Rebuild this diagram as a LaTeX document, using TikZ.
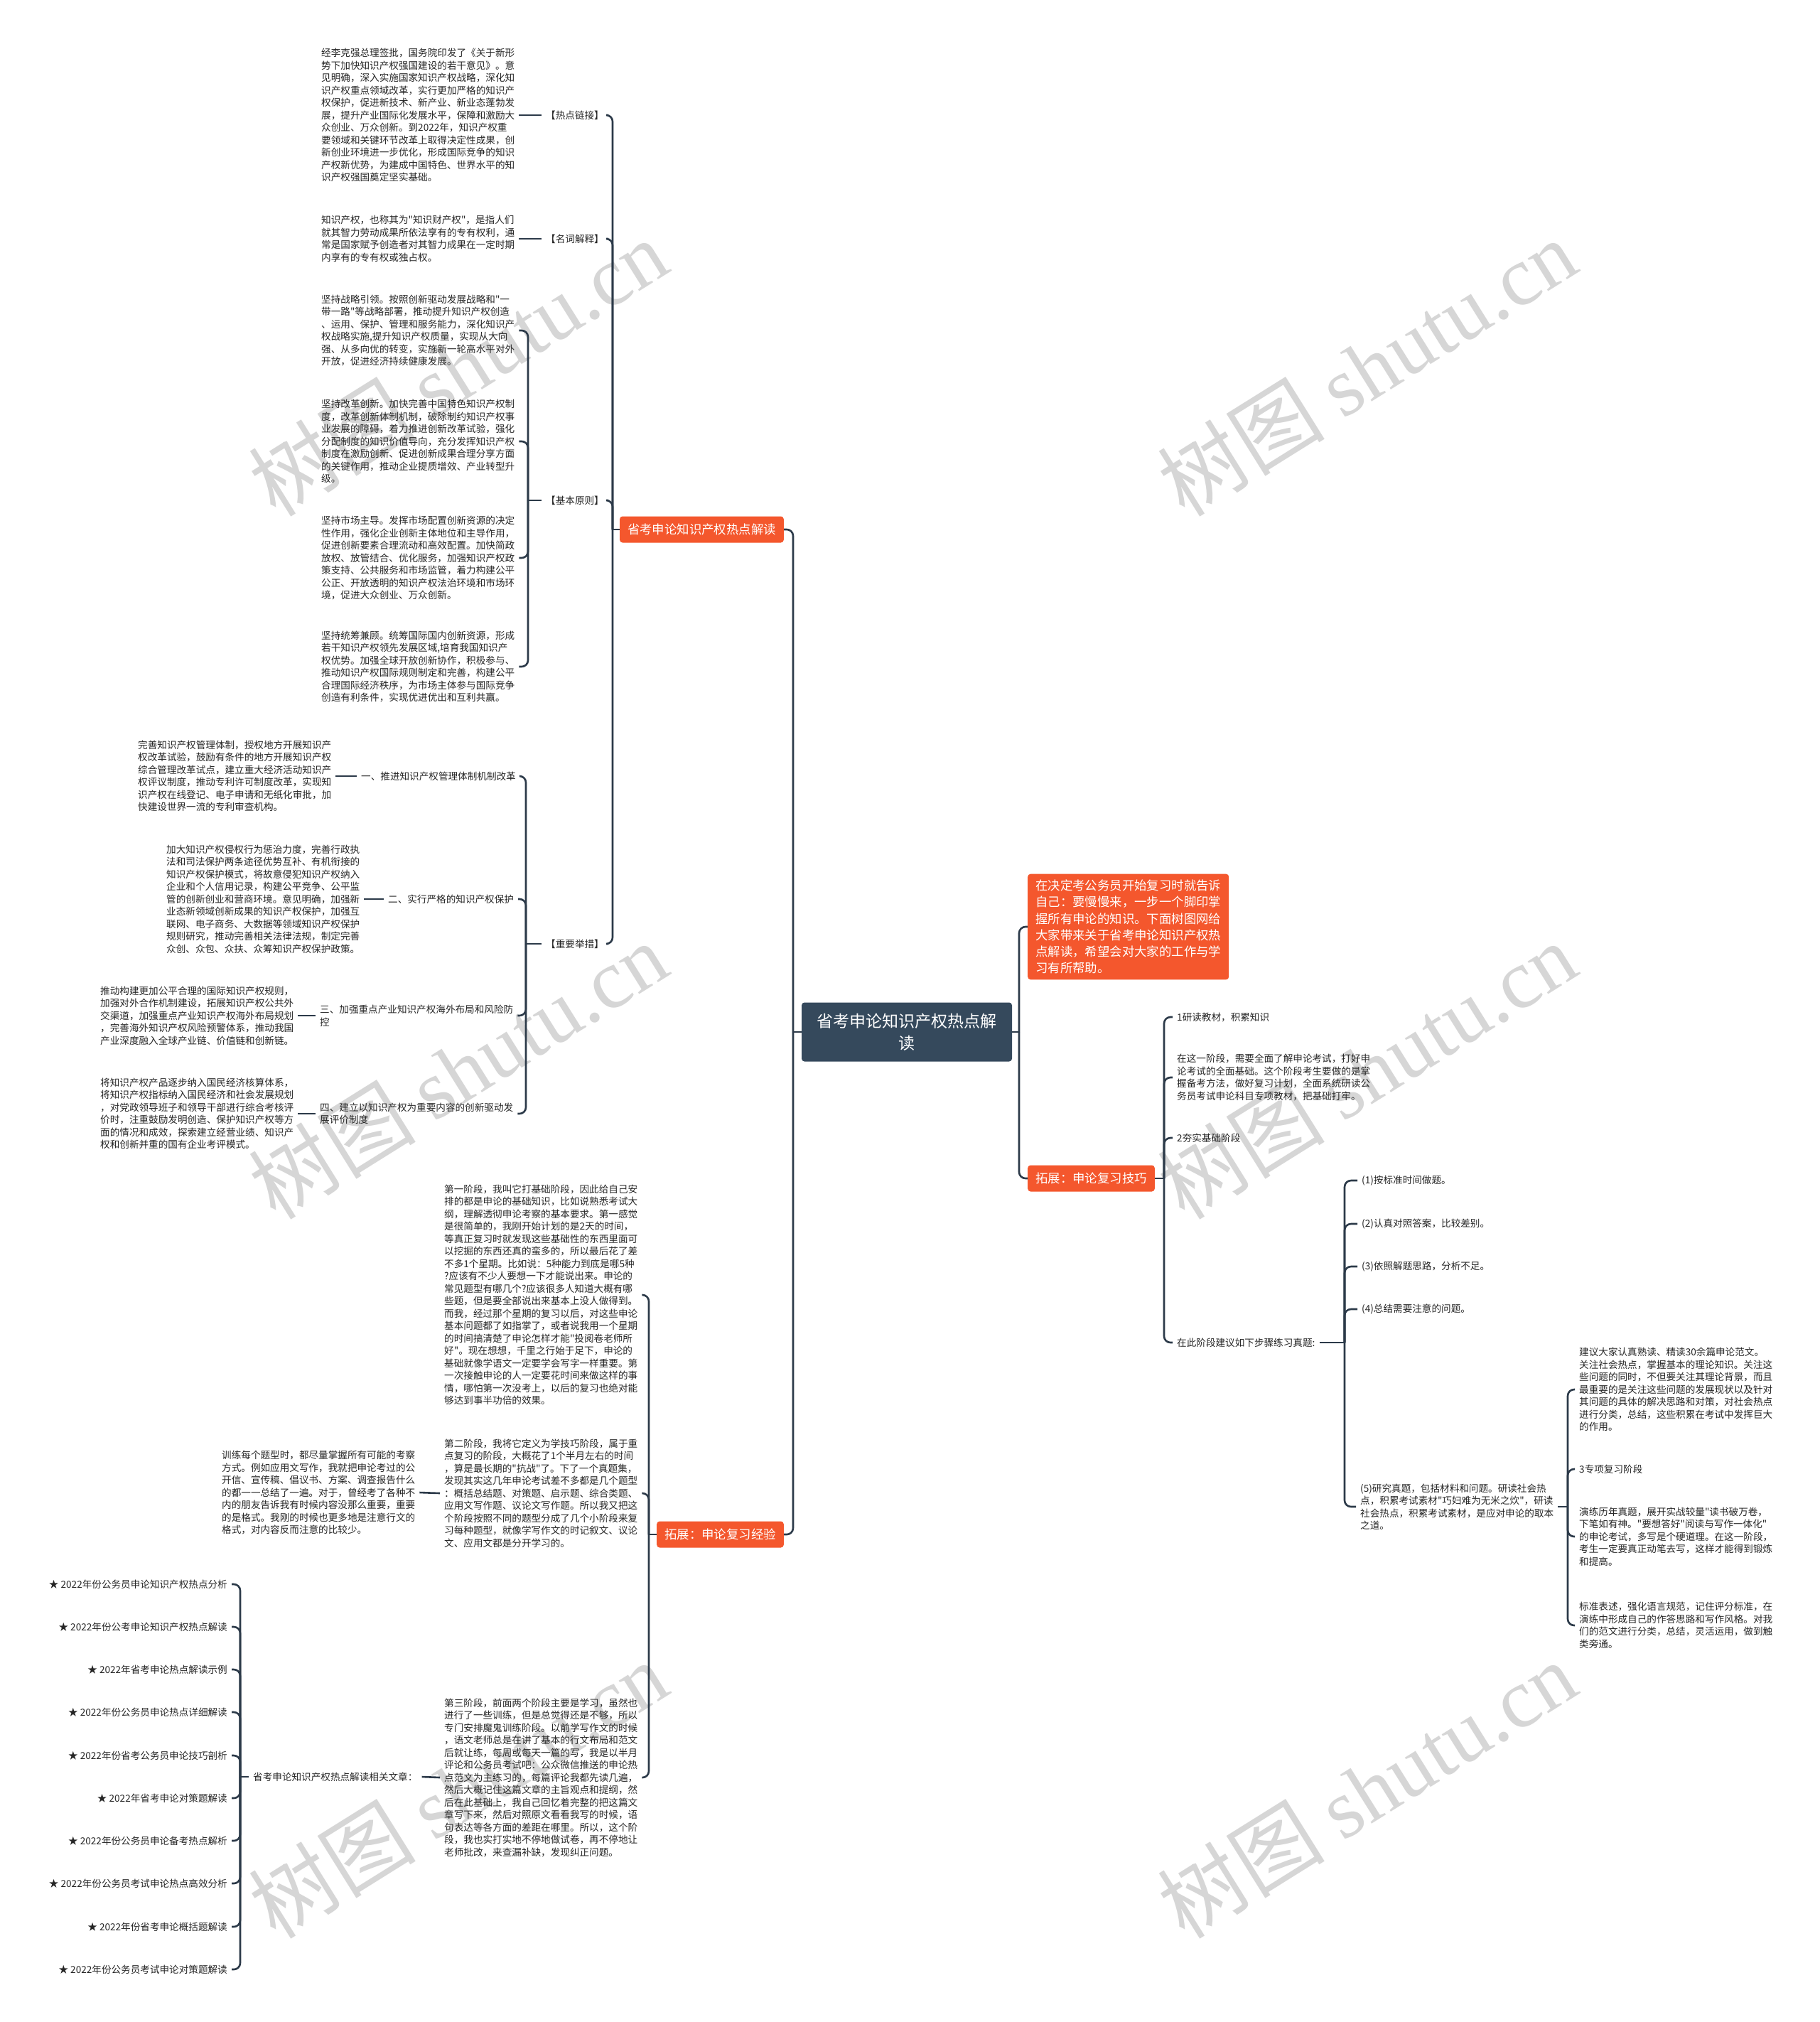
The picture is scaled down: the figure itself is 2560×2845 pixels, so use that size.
\documentclass[tikz,border=0pt]{standalone}
\usepackage{fontspec}
\newfontfamily\zh{Noto Sans CJK SC}
\newfontfamily\wmlat{Liberation Serif}
\definecolor{linec}{HTML}{2C3A49}
\definecolor{orangec}{HTML}{F4572D}
\definecolor{rootc}{HTML}{35495C}
\tikzset{
  txt/.style={font=\zh\fontsize{13.6}{17.5}\selectfont, align=left, inner xsep=6pt, inner ysep=2pt, text=black!85},
  obox/.style={fill=orangec, text=white, rounded corners=4pt, font=\zh\fontsize{17.4}{23.3}\selectfont, inner xsep=11pt, inner ysep=8pt, align=left, minimum height=37pt},
  rootbox/.style={fill=rootc, text=white, rounded corners=4pt, font=\zh\fontsize{23}{31}\selectfont, align=center, minimum width=296pt, minimum height=83pt},
  conn/.style={draw=linec, line width=2.6pt, rounded corners=9pt},
  wm/.style={text=black!16, rotate=32, font=\zh\fontsize{118}{118}\selectfont},
}
\begin{document}
\begin{tikzpicture}[x=1pt,y=-1pt]
\useasboundingbox (0,0) rectangle (2560,2845);
\fill[white] (0,0) rectangle (2560,2845);
% watermarks
\node[wm] (w1) at (644,517) {树图 {\wmlat shutu.cn}};
\node[wm] (w2) at (1923,517) {树图 {\wmlat shutu.cn}};
\node[wm] (w3) at (644,1506) {树图 {\wmlat shutu.cn}};
\node[wm] (w4) at (1923,1506) {树图 {\wmlat shutu.cn}};
\node[wm] (w5) at (644,2518) {树图 {\wmlat shutu.cn}};
\node[wm] (w6) at (1923,2518) {树图 {\wmlat shutu.cn}};

% bus coordinates
\coordinate (tL) at (1116,0);
\coordinate (tR) at (1434,0);
\coordinate (bb1) at (862,0);
\coordinate (bjb) at (743,0);
\coordinate (bzy) at (740,0);
\coordinate (bb2) at (913,0);
\coordinate (bwz) at (338,0);
\coordinate (br2) at (1638,0);
\coordinate (bcs) at (1892,0);
\coordinate (b5) at (2206,0);

% root and main branches
\node[rootbox] (root) at (1276,1452) {省考申论知识产权热点解\\读};
\node[obox, anchor=east] (b1) at (1103,745) {省考申论知识产权热点解读};
\node[obox, anchor=east] (b2) at (1103,2159) {拓展：申论复习经验};
\node[obox, anchor=west] (r1) at (1446,1304) {在决定考公务员开始复习时就告诉\\自己：要慢慢来，一步一个脚印掌\\握所有申论的知识。下面树图网给\\大家带来关于省考申论知识产权热\\点解读，希望会对大家的工作与学\\习有所帮助。};
\node[obox, anchor=west] (r2) at (1446,1658) {拓展：申论复习技巧};

% branch 1 labels
\node[txt, anchor=west] (hotl) at (762,162) {【热点链接】};
\node[txt, anchor=west] (nounl) at (762,336) {【名词解释】};
\node[txt, anchor=west] (jbl) at (762,704) {【基本原则】};
\node[txt, anchor=west] (zyl) at (762,1328) {【重要举措】};

\node[txt, anchor=west] (hot) at (446,162) {经李克强总理签批，国务院印发了《关于新形\\势下加快知识产权强国建设的若干意见》。意\\见明确，深入实施国家知识产权战略，深化知\\识产权重点领域改革，实行更加严格的知识产\\权保护，促进新技术、新产业、新业态蓬勃发\\展，提升产业国际化发展水平，保障和激励大\\众创业、万众创新。到2022年，知识产权重\\要领域和关键环节改革上取得决定性成果，创\\新创业环境进一步优化，形成国际竞争的知识\\产权新优势，为建成中国特色、世界水平的知\\识产权强国奠定坚实基础。};
\node[txt, anchor=west] (noun) at (446,336) {知识产权，也称其为"知识财产权"，是指人们\\就其智力劳动成果所依法享有的专有权利，通\\常是国家赋予创造者对其智力成果在一定时期\\内享有的专有权或独占权。};

\node[txt, anchor=west] (jb1) at (446,465) {坚持战略引领。按照创新驱动发展战略和"一\\带一路"等战略部署，推动提升知识产权创造\\、运用、保护、管理和服务能力，深化知识产\\权战略实施,提升知识产权质量，实现从大向\\强、从多向优的转变，实施新一轮高水平对外\\开放，促进经济持续健康发展。};
\node[txt, anchor=west] (jb2) at (446,621) {坚持改革创新。加快完善中国特色知识产权制\\度，改革创新体制机制，破除制约知识产权事\\业发展的障碍，着力推进创新改革试验，强化\\分配制度的知识价值导向，充分发挥知识产权\\制度在激励创新、促进创新成果合理分享方面\\的关键作用，推动企业提质增效、产业转型升\\级。};
\node[txt, anchor=west] (jb3) at (446,785) {坚持市场主导。发挥市场配置创新资源的决定\\性作用，强化企业创新主体地位和主导作用，\\促进创新要素合理流动和高效配置。加快简政\\放权、放管结合、优化服务，加强知识产权政\\策支持、公共服务和市场监管，着力构建公平\\公正、开放透明的知识产权法治环境和市场环\\境，促进大众创业、万众创新。};
\node[txt, anchor=west] (jb4) at (446,938) {坚持统筹兼顾。统筹国际国内创新资源，形成\\若干知识产权领先发展区域,培育我国知识产\\权优势。加强全球开放创新协作，积极参与、\\推动知识产权国际规则制定和完善，构建公平\\合理国际经济秩序，为市场主体参与国际竞争\\创造有利条件，实现优进优出和互利共赢。};

% 重要举措 children
\node[txt, anchor=west] (z1l) at (502,1092) {一、推进知识产权管理体制机制改革};
\node[txt, anchor=west] (z2l) at (540,1265) {二、实行严格的知识产权保护};
\node[txt, anchor=west] (z3l) at (444,1429) {三、加强重点产业知识产权海外布局和风险防\\控};
\node[txt, anchor=west] (z4l) at (444,1567) {四、建立以知识产权为重要内容的创新驱动发\\展评价制度};

\node[txt, anchor=west] (z1p) at (188,1092) {完善知识产权管理体制，授权地方开展知识产\\权改革试验，鼓励有条件的地方开展知识产权\\综合管理改革试点，建立重大经济活动知识产\\权评议制度，推动专利许可制度改革，实现知\\识产权在线登记、电子申请和无纸化审批，加\\快建设世界一流的专利审查机构。};
\node[txt, anchor=west] (z2p) at (228,1265) {加大知识产权侵权行为惩治力度，完善行政执\\法和司法保护两条途径优势互补、有机衔接的\\知识产权保护模式，将故意侵犯知识产权纳入\\企业和个人信用记录，构建公平竞争、公平监\\管的创新创业和营商环境。意见明确，加强新\\业态新领域创新成果的知识产权保护，加强互\\联网、电子商务、大数据等领域知识产权保护\\规则研究，推动完善相关法律法规，制定完善\\众创、众包、众扶、众筹知识产权保护政策。};
\node[txt, anchor=west] (z3p) at (135,1429) {推动构建更加公平合理的国际知识产权规则，\\加强对外合作机制建设，拓展知识产权公共外\\交渠道，加强重点产业知识产权海外布局规划\\，完善海外知识产权风险预警体系，推动我国\\产业深度融入全球产业链、价值链和创新链。};
\node[txt, anchor=west] (z4p) at (135,1567) {将知识产权产品逐步纳入国民经济核算体系，\\将知识产权指标纳入国民经济和社会发展规划\\，对党政领导班子和领导干部进行综合考核评\\价时，注重鼓励发明创造、保护知识产权等方\\面的情况和成效，探索建立经营业绩、知识产\\权和创新并重的国有企业考评模式。};

% branch 2 children
\node[txt, anchor=west] (s1) at (619,1822) {第一阶段，我叫它打基础阶段，因此给自己安\\排的都是申论的基础知识，比如说熟悉考试大\\纲，理解透彻申论考察的基本要求。第一感觉\\是很简单的，我刚开始计划的是2天的时间，\\等真正复习时就发现这些基础性的东西里面可\\以挖掘的东西还真的蛮多的，所以最后花了差\\不多1个星期。比如说：5种能力到底是哪5种\\?应该有不少人要想一下才能说出来。申论的\\常见题型有哪几个?应该很多人知道大概有哪\\些题，但是要全部说出来基本上没人做得到。\\而我，经过那个星期的复习以后，对这些申论\\基本问题都了如指掌了，或者说我用一个星期\\的时间搞清楚了申论怎样才能"投阅卷老师所\\好"。现在想想，千里之行始于足下，申论的\\基础就像学语文一定要学会写字一样重要。第\\一次接触申论的人一定要花时间来做这样的事\\情，哪怕第一次没考上，以后的复习也绝对能\\够达到事半功倍的效果。};
\node[txt, anchor=west] (s2) at (619,2101) {第二阶段，我将它定义为学技巧阶段，属于重\\点复习的阶段，大概花了1个半月左右的时间\\，算是最长期的"抗战"了。下了一个真题集，\\发现其实这几年申论考试差不多都是几个题型\\：概括总结题、对策题、启示题、综合类题、\\应用文写作题、议论文写作题。所以我又把这\\个阶段按照不同的题型分成了几个小阶段来复\\习每种题型，就像学写作文的时记叙文、议论\\文、应用文都是分开学习的。};
\node[txt, anchor=west] (s3) at (619,2501) {第三阶段，前面两个阶段主要是学习，虽然也\\进行了一些训练，但是总觉得还是不够，所以\\专门安排魔鬼训练阶段。以前学写作文的时候\\，语文老师总是在讲了基本的行文布局和范文\\后就让练，每周或每天一篇的写，我是以半月\\评论和公务员考试吧：公众微信推送的申论热\\点范文为主练习的，每篇评论我都先读几遍，\\然后大概记住这篇文章的主旨观点和提纲，然\\后在此基础上，我自己回忆着完整的把这篇文\\章写下来，然后对照原文看看我写的时候，语\\句表达等各方面的差距在哪里。所以，这个阶\\段，我也实打实地不停地做试卷，再不停地让\\老师批改，来查漏补缺，发现纠正问题。};
\node[txt, anchor=west] (tr) at (306,2100) {训练每个题型时，都尽量掌握所有可能的考察\\方式。例如应用文写作，我就把申论考过的公\\开信、宣传稿、倡议书、方案、调查报告什么\\的都一一总结了一遍。对于，曾经考了各种不\\内的朋友告诉我有时候内容没那么重要，重要\\的是格式。我刚的时候也更多地是注意行文的\\格式，对内容反而注意的比较少。};
\node[txt, anchor=west] (wzl) at (350,2500) {省考申论知识产权热点解读相关文章：};

\node[txt, anchor=east] (a1) at (326,2229) {★ 2022年份公务员申论知识产权热点分析};
\node[txt, anchor=east] (a2) at (326,2289) {★ 2022年份公考申论知识产权热点解读};
\node[txt, anchor=east] (a3) at (326,2349) {★ 2022年省考申论热点解读示例};
\node[txt, anchor=east] (a4) at (326,2409) {★ 2022年份公务员申论热点详细解读};
\node[txt, anchor=east] (a5) at (326,2470) {★ 2022年份省考公务员申论技巧剖析};
\node[txt, anchor=east] (a6) at (326,2530) {★ 2022年省考申论对策题解读};
\node[txt, anchor=east] (a7) at (326,2590) {★ 2022年份公务员申论备考热点解析};
\node[txt, anchor=east] (a8) at (326,2650) {★ 2022年份公务员考试申论热点高效分析};
\node[txt, anchor=east] (a9) at (326,2711) {★ 2022年份省考申论概括题解读};
\node[txt, anchor=east] (a10) at (326,2771) {★ 2022年份公务员考试申论对策题解读};

% right side children
\node[txt, anchor=west] (k1) at (1650,1431) {1研读教材，积累知识};
\node[txt, anchor=west] (k2) at (1650,1516) {在这一阶段，需要全面了解申论考试，打好申\\论考试的全面基础。这个阶段考生要做的是掌\\握备考方法，做好复习计划，全面系统研读公\\务员考试申论科目专项教材，把基础打牢。};
\node[txt, anchor=west] (k3) at (1650,1601) {2夯实基础阶段};
\node[txt, anchor=west] (k4) at (1650,1889) {在此阶段建议如下步骤练习真题:};

\node[txt, anchor=west] (q1) at (1910,1661) {(1)按标准时间做题。};
\node[txt, anchor=west] (q2) at (1910,1722) {(2)认真对照答案，比较差别。};
\node[txt, anchor=west] (q3) at (1910,1782) {(3)依照解题思路，分析不足。};
\node[txt, anchor=west] (q4) at (1910,1842) {(4)总结需要注意的问题。};
\node[txt, anchor=west] (q5) at (1908,2120) {(5)研究真题，包括材料和问题。研读社会热\\点，积累考试素材"巧妇难为无米之炊"，研读\\社会热点，积累考试素材，是应对申论的取本\\之道。};

\node[txt, anchor=west] (m1) at (2216,1955) {建议大家认真熟读、精读30余篇申论范文。\\关注社会热点，掌握基本的理论知识。关注这\\些问题的同时，不但要关注其理论背景，而且\\最重要的是关注这些问题的发展现状以及针对\\其问题的具体的解决思路和对策，对社会热点\\进行分类，总结，这些积累在考试中发挥巨大\\的作用。};
\node[txt, anchor=west] (m2) at (2216,2067) {3专项复习阶段};
\node[txt, anchor=west] (m3) at (2216,2162) {演练历年真题，展开实战较量"读书破万卷，\\下笔如有神。"要想答好"阅读与写作一体化"\\的申论考试，多写是个硬道理。在这一阶段，\\考生一定要真正动笔去写，这样才能得到锻炼\\和提高。};
\node[txt, anchor=west] (m4) at (2216,2287) {标准表述，强化语言规范，记住评分标准，在\\演练中形成自己的作答思路和写作风格。对我\\们的范文进行分类，总结，灵活运用，做到触\\类旁通。};

% ---------- connectors ----------
% root trunks
\draw[conn] (root.west) -- (root.west -| tL);
\draw[conn] (root.west -| tL) |- (b1.east);
\draw[conn] (root.west -| tL) |- (b2.east);
\draw[conn] (root.east) -- (root.east -| tR);
\draw[conn] (root.east -| tR) |- (r1.west);
\draw[conn] (root.east -| tR) |- (r2.west);

% branch 1
\draw[conn] (b1.west) -- (b1.west -| bb1);
\draw[conn] (b1.west -| bb1) |- (hotl.east);
\draw[conn] (b1.west -| bb1) |- (nounl.east);
\draw[conn] (b1.west -| bb1) |- (jbl.east);
\draw[conn] (b1.west -| bb1) |- (zyl.east);
\draw[conn] (hotl.west) -- (hot.east);
\draw[conn] (nounl.west) -- (noun.east);

\draw[conn] (jbl.west) -- (jbl.west -| bjb);
\draw[conn] (jbl.west -| bjb) |- (jb1.east);
\draw[conn] (jbl.west -| bjb) |- (jb2.east);
\draw[conn] (jbl.west -| bjb) |- (jb3.east);
\draw[conn] (jbl.west -| bjb) |- (jb4.east);

\draw[conn] (zyl.west) -- (zyl.west -| bzy);
\draw[conn] (zyl.west -| bzy) |- (z1l.east);
\draw[conn] (zyl.west -| bzy) |- (z2l.east);
\draw[conn] (zyl.west -| bzy) |- (z3l.east);
\draw[conn] (zyl.west -| bzy) |- (z4l.east);
\draw[conn] (z1l.west) -- (z1p.east);
\draw[conn] (z2l.west) -- (z2p.east);
\draw[conn] (z3l.west) -- (z3p.east);
\draw[conn] (z4l.west) -- (z4p.east);

% branch 2
\draw[conn] (b2.west) -- (b2.west -| bb2);
\draw[conn] (b2.west -| bb2) |- (s1.east);
\draw[conn] (b2.west -| bb2) |- (s2.east);
\draw[conn] (b2.west -| bb2) |- (s3.east);
\draw[conn] (s2.west) -- (tr.east);
\draw[conn] (s3.west) -- (wzl.east);
\draw[conn] (wzl.west) -- (wzl.west -| bwz);
\foreach \c in {a1,a2,a3,a4,a5,a6,a7,a8,a9,a10}
  \draw[conn] (wzl.west -| bwz) |- (\c.east);

% right branch 2
\draw[conn] (r2.east) -- (r2.east -| br2);
\draw[conn] (r2.east -| br2) |- (k1.west);
\draw[conn] (r2.east -| br2) |- (k2.west);
\draw[conn] (r2.east -| br2) |- (k3.west);
\draw[conn] (r2.east -| br2) |- (k4.west);
\draw[conn] (k4.east) -- (k4.east -| bcs);
\foreach \c in {q1,q2,q3,q4,q5}
  \draw[conn] (k4.east -| bcs) |- (\c.west);
\draw[conn] (q5.east) -- (q5.east -| b5);
\foreach \c in {m1,m2,m3,m4}
  \draw[conn] (q5.east -| b5) |- (\c.west);
\end{tikzpicture}
\end{document}
